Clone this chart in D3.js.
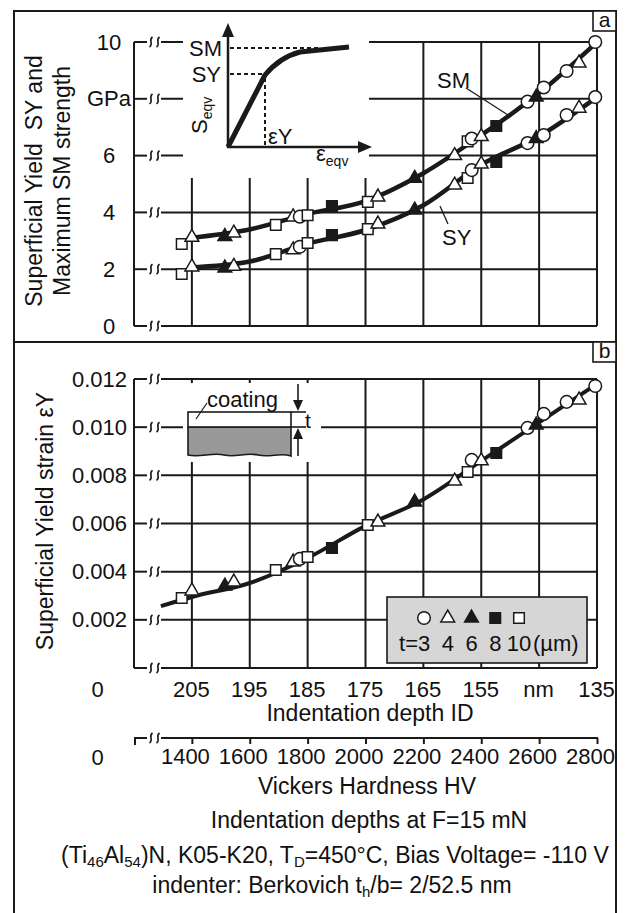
<!DOCTYPE html>
<html>
<head>
<meta charset="utf-8">
<script src="https://cdnjs.cloudflare.com/ajax/libs/d3/7.8.5/d3.min.js"></script>
<style>
  body { margin: 0; background: #fff; }
  text { font-family: "Liberation Sans", Arial, sans-serif; fill: #111; }
</style>
</head>
<body>
<script>
// every specimen: Vickers hardness position and coating thickness t (µm)
const pointHV = [1365, 1400, 1514, 1545, 1690, 1750, 1773, 1800, 1884, 2008, 2043, 2170,
                 2308, 2353, 2367, 2400, 2452, 2560, 2590, 2616, 2695, 2738, 2794]
const pointT  = [10, 4, 6, 4, 10, 4, 3, 10, 8, 10, 4, 6,
                 4, 10, 3, 4, 8, 3, 6, 3, 3, 4, 3]
// SM, SY in GPa, eY strain
const smValues = [2.89, 3.12, 3.15, 3.27, 3.56, 3.84, 3.85, 3.9, 4.22, 4.37, 4.54, 5.2,
                  6.0, 6.5, 6.6, 6.67, 7.04, 7.9, 8.06, 8.4, 8.98, 9.26, 10.0]
const syValues = [1.83, 2.08, 2.04, 2.1, 2.53, 2.68, 2.79, 2.92, 3.2, 3.41, 3.59, 4.08,
                  4.96, 5.21, 5.49, 5.7, 5.78, 6.44, 6.6, 6.72, 7.43, 7.67, 8.06]
const eyValues = [0.00291, 0.0032, 0.0034, 0.00357, 0.00407, 0.0044, 0.00453, 0.00461, 0.00498, 0.00594, 0.00606, 0.00689,
                  0.00776, 0.00814, 0.00864, 0.0086, 0.00893, 0.00997, 0.01009, 0.01055, 0.01105, 0.01113, 0.01171]

// fitted curves
const trendHV   = [1390, 1600, 1800, 2000, 2200, 2400, 2600, 2800]
const smTrend   = [3.1, 3.4, 3.95, 4.4, 5.38, 6.72, 8.2, 10.0]
const syTrend   = [2.06, 2.27, 2.9, 3.38, 4.25, 5.68, 6.68, 8.06]
const eyTrendHV = [1293, 1400, 1600, 1800, 2000, 2200, 2400, 2600, 2800]
const eyTrend   = [0.00257, 0.00295, 0.00353, 0.00457, 0.0059, 0.007, 0.0086, 0.0102, 0.0118]

// axes
const hvTicks      = [1400, 1600, 1800, 2000, 2200, 2400, 2600, 2800]
const depthLabels  = ['205', '195', '185', '175', '165', '155', 'nm', '135']
const stressTicks  = [0, 2, 4, 6, 8, 10]
const stressLabels = ['0', '2', '4', '6', 'GPa', '10']
const strainTicks  = [0, 0.002, 0.004, 0.006, 0.008, 0.010, 0.012]
const legendT      = [3, 4, 6, 8, 10]

const ink = '#1a1a1a'

const svg = d3.select('body').append('svg')
  .attr('width', 625)
  .attr('height', 913)

const x  = d3.scaleLinear().domain([1200, 2800]).range([134, 597])
const yA = d3.scaleLinear().domain([0, 10]).range([326, 42])
const yB = d3.scaleLinear().domain([0, 0.012]).range([668, 379])

// marker look per thickness
const symbolOf = {3: d3.symbolCircle, 4: d3.symbolTriangle, 6: d3.symbolTriangle, 8: d3.symbolSquare, 10: d3.symbolSquare}
const sizeOf = {3: 125, 4: 82, 6: 82, 8: 112, 10: 112}
const filled = (t) => t === 6 || t === 8
const marker = (t) => d3.symbol().type(symbolOf[t]).size(sizeOf[t])()

// outer frame and panel divider
svg.append('path')
  .attr('d', 'M14,913 V11 H616 V913')
  .attr('fill', 'none').attr('stroke', ink).attr('stroke-width', 2)
svg.append('line').attr('x1', 14).attr('x2', 616).attr('y1', 342).attr('y2', 342)
  .attr('stroke', ink).attr('stroke-width', 2)

function squiggle(g, cx, cy) {
  g.append('path')
    .attr('d', `M${cx + 1.5},${cy - 5} C${cx - 3},${cy - 2} ${cx + 3},${cy + 2} ${cx - 1.5},${cy + 5}`)
    .attr('fill', 'none').attr('stroke', ink).attr('stroke-width', 1.6)
}

// grid with broken axis near the origin
function drawGrid(g, y, ticks) {
  const top = y(ticks[ticks.length - 1]), bottom = y(ticks[0])
  ticks.forEach((v) => {
    g.append('line').attr('x1', x(1200)).attr('x2', 147).attr('y1', y(v)).attr('y2', y(v))
    squiggle(g, 151, y(v))
    squiggle(g, 158, y(v))
    g.append('line').attr('x1', 161).attr('x2', x(2800)).attr('y1', y(v)).attr('y2', y(v))
  })
  ;[1200].concat(hvTicks).forEach((h) => {
    g.append('line').attr('x1', x(h)).attr('x2', x(h)).attr('y1', top).attr('y2', bottom)
  })
  g.selectAll('line').attr('stroke', ink).attr('stroke-width', 2)
}

function panelTag(label, y0) {
  svg.append('rect').attr('x', 593).attr('y', y0).attr('width', 23).attr('height', 20)
    .attr('fill', '#fff').attr('stroke', ink).attr('stroke-width', 1.6)
  svg.append('text').attr('x', 604.5).attr('y', y0 + 16).attr('text-anchor', 'middle')
    .attr('font-size', 21).text(label)
}

function drawSeries(g, y, lineHV, lineVals, vals, width) {
  const line = d3.line().x((d) => x(d[0])).y((d) => y(d[1])).curve(d3.curveMonotoneX)
  g.append('path')
    .attr('d', line(d3.zip(lineHV, lineVals)))
    .attr('fill', 'none').attr('stroke', ink).attr('stroke-width', width)
  g.selectAll('path.pt')
    .data(d3.range(vals.length))
    .join('path')
    .attr('class', 'pt')
    .attr('d', (i) => marker(pointT[i]))
    .attr('transform', (i) => `translate(${x(pointHV[i])},${y(vals[i])})`)
    .attr('fill', (i) => filled(pointT[i]) ? ink : '#fff')
    .attr('stroke', ink).attr('stroke-width', 1.5)
}

// ---------- panel a ----------
const ga = svg.append('g')
drawGrid(ga.append('g'), yA, stressTicks)
ga.append('rect').attr('x', 183).attr('y', 18).attr('width', 186).attr('height', 160).attr('fill', '#fff')

const axA = ga.append('g').attr('transform', 'translate(134,0)')
  .call(d3.axisLeft(yA).tickValues(stressTicks).tickFormat((d, i) => stressLabels[i]).tickSize(0))
axA.select('.domain').remove()
axA.selectAll('text').attr('x', -25).attr('text-anchor', 'middle')
  .attr('font-size', 22).attr('font-family', null).attr('fill', null)

// stress-strain sketch
const sk = ga.append('g').attr('stroke', ink).attr('fill', 'none')
sk.append('line').attr('x1', 228).attr('y1', 148).attr('x2', 228).attr('y2', 34).attr('stroke-width', 2.5)
sk.append('path').attr('d', 'M228,23 L222,37 L234,37 Z').attr('fill', ink).attr('stroke', 'none')
sk.append('line').attr('x1', 227).attr('y1', 147).attr('x2', 360).attr('y2', 147).attr('stroke-width', 2.5)
sk.append('path').attr('d', 'M372,147 L358,141 L358,153 Z').attr('fill', ink).attr('stroke', 'none')
sk.selectAll('line.dash')
  .data([[230, 48, 318, 48], [230, 74, 263, 74], [265, 78, 265, 146]])
  .join('line').attr('class', 'dash')
  .attr('x1', (d) => d[0]).attr('y1', (d) => d[1]).attr('x2', (d) => d[2]).attr('y2', (d) => d[3])
  .attr('stroke-width', 2).attr('stroke-dasharray', '4,3')
sk.append('path').attr('d', 'M228,147 L265,75 Q280,57 300,52 L349,47')
  .attr('stroke-width', 5).attr('stroke-linejoin', 'round')
ga.append('text').attr('x', 222).attr('y', 56).attr('text-anchor', 'end').attr('font-size', 22).text('SM')
ga.append('text').attr('x', 221).attr('y', 82).attr('text-anchor', 'end').attr('font-size', 22).text('SY')
const seqv = ga.append('text').attr('transform', 'translate(207,134) rotate(-90)').attr('font-size', 22)
seqv.append('tspan').text('S')
seqv.append('tspan').attr('font-size', 14).attr('dy', 5).text('eqv')
ga.append('text').attr('x', 268).attr('y', 144).attr('font-size', 22).text('εY')
const eeqv = ga.append('text').attr('x', 316).attr('y', 161).attr('font-size', 22)
eeqv.append('tspan').text('ε')
eeqv.append('tspan').attr('font-size', 14).attr('dy', 5).text('eqv')

drawSeries(ga.append('g'), yA, trendHV, smTrend, smValues, 4.5)
drawSeries(ga.append('g'), yA, trendHV, syTrend, syValues, 4.5)

// curve labels
ga.append('text').attr('x', 437).attr('y', 88).attr('font-size', 22).text('SM')
ga.append('line').attr('x1', 466).attr('y1', 88).attr('x2', 508).attr('y2', 115).attr('stroke', ink).attr('stroke-width', 1.3)
ga.append('text').attr('x', 442).attr('y', 245).attr('font-size', 22).text('SY')
ga.append('line').attr('x1', 440).attr('y1', 206).attr('x2', 448).attr('y2', 224).attr('stroke', ink).attr('stroke-width', 1.3)

const labA = ga.append('text').attr('transform', 'translate(0,181) rotate(-90)')
  .attr('text-anchor', 'middle').attr('font-size', 23)
labA.append('tspan').attr('x', 0).attr('y', 42).text('Superficial Yield\u00a0\u00a0SY and')
labA.append('tspan').attr('x', 0).attr('y', 70).text('Maximum SM strength')

panelTag('a', 11)

// ---------- panel b ----------
const gb = svg.append('g')
drawGrid(gb.append('g'), yB, strainTicks)
gb.append('rect').attr('x', 183).attr('y', 383).attr('width', 138).attr('height', 79).attr('fill', '#fff')

const axB = gb.append('g').attr('transform', 'translate(134,0)')
  .call(d3.axisLeft(yB).tickValues(strainTicks.slice(1)).tickFormat(d3.format('.3f')).tickSize(0).tickPadding(7))
axB.select('.domain').remove()
axB.selectAll('text').attr('font-size', 22).attr('font-family', null).attr('fill', null)

// coating sketch
const cs = gb.append('g').attr('stroke', ink).attr('stroke-width', 1.6)
cs.append('path')
  .attr('d', 'M188,427 H291 V456 C280,452 270,458 258,455 C246,452 236,458 224,455 C212,452 200,458 188,455 Z')
  .attr('fill', '#999')
cs.append('rect').attr('x', 188).attr('y', 412).attr('width', 103).attr('height', 15).attr('fill', '#fff')
cs.append('line').attr('x1', 291).attr('x2', 306).attr('y1', 412).attr('y2', 412)
cs.append('line').attr('x1', 291).attr('x2', 306).attr('y1', 427).attr('y2', 427)
cs.append('line').attr('x1', 298).attr('x2', 298).attr('y1', 384).attr('y2', 402)
cs.append('path').attr('d', 'M298,411 L293,400 L303,400 Z').attr('fill', ink).attr('stroke', 'none')
cs.append('line').attr('x1', 298).attr('x2', 298).attr('y1', 456).attr('y2', 437)
cs.append('path').attr('d', 'M298,428 L293,439 L303,439 Z').attr('fill', ink).attr('stroke', 'none')
cs.append('line').attr('x1', 196).attr('y1', 419).attr('x2', 207).attr('y2', 403).attr('stroke-width', 1.2)
gb.append('text').attr('x', 207).attr('y', 407).attr('font-size', 22).text('coating')
gb.append('text').attr('x', 305).attr('y', 428).attr('font-size', 21).text('t')

drawSeries(gb.append('g'), yB, eyTrendHV, eyTrend, eyValues, 4)

gb.append('text').attr('transform', 'translate(53,521) rotate(-90)')
  .attr('text-anchor', 'middle').attr('font-size', 23).text('Superficial Yield strain εY')

// legend
const lg = gb.append('g')
const lx = d3.scalePoint().domain(legendT).range([424, 519])
lg.append('rect').attr('x', 387).attr('y', 597).attr('width', 200).attr('height', 66)
  .attr('fill', '#d6d6d6').attr('stroke', ink).attr('stroke-width', 1.6)
lg.selectAll('path')
  .data(legendT)
  .join('path')
  .attr('d', (t) => marker(t))
  .attr('transform', (t) => `translate(${lx(t)},618)`)
  .attr('fill', (t) => filled(t) ? ink : '#fff')
  .attr('stroke', ink).attr('stroke-width', 1.5)
lg.selectAll('text.num')
  .data(legendT)
  .join('text').attr('class', 'num')
  .attr('x', (t) => lx(t)).attr('y', 651).attr('text-anchor', 'middle').attr('font-size', 22)
  .text((t) => t)
lg.append('text').attr('x', lx(3) - 6).attr('y', 651).attr('text-anchor', 'end').attr('font-size', 22).text('t=')
lg.append('text').attr('x', lx(10) + 14).attr('y', 651).attr('font-size', 22).text('(µm)')

panelTag('b', 342)

// ---------- lower axes ----------
const depthAxis = svg.append('g').attr('transform', 'translate(0,668)')
  .call(d3.axisBottom(x).tickValues(hvTicks).tickFormat((d, i) => depthLabels[i]).tickSize(0).tickPadding(13))
depthAxis.select('.domain').remove()
depthAxis.selectAll('text').attr('font-size', 22).attr('font-family', null).attr('fill', null).attr('dx', -1)

const hvAxis = svg.append('g').attr('transform', 'translate(0,738)')
  .call(d3.axisBottom(x).tickValues(hvTicks).tickFormat(d3.format('d')).tickSize(6).tickPadding(4))
hvAxis.select('.domain').remove()
hvAxis.selectAll('line').attr('stroke', ink).attr('stroke-width', 2)
hvAxis.selectAll('text').attr('font-size', 22).attr('font-family', null).attr('fill', null).attr('dx', -7)
hvAxis.append('path').attr('d', `M${x(1200) + 1},7 V0 H147`).attr('fill', 'none').attr('stroke', ink).attr('stroke-width', 2)
squiggle(hvAxis, 151, 0)
squiggle(hvAxis, 158, 0)
hvAxis.append('line').attr('x1', 161).attr('x2', x(2800) + 1).attr('y1', 0).attr('y2', 0).attr('stroke', ink).attr('stroke-width', 2)

svg.append('text').attr('x', 97.5).attr('y', 697).attr('text-anchor', 'middle').attr('font-size', 22).text('0')
svg.append('text').attr('x', 97.5).attr('y', 765).attr('text-anchor', 'middle').attr('font-size', 22).text('0')

const notes = svg.append('g').attr('text-anchor', 'middle').attr('font-size', 23)
notes.append('text').attr('x', 370).attr('y', 721).text('Indentation depth ID')
notes.append('text').attr('x', 367).attr('y', 794).text('Vickers Hardness HV')
notes.append('text').attr('x', 369).attr('y', 828).text('Indentation depths at F=15 mN')
const comp = notes.append('text').attr('x', 335).attr('y', 863)
comp.append('tspan').text('(Ti')
comp.append('tspan').attr('font-size', 15).attr('dy', 4).text('46')
comp.append('tspan').attr('dy', -4).text('Al')
comp.append('tspan').attr('font-size', 15).attr('dy', 4).text('54')
comp.append('tspan').attr('dy', -4).text(')N, K05-K20, T')
comp.append('tspan').attr('font-size', 15).attr('dy', 4).text('D')
comp.append('tspan').attr('dy', -4).text('=450°C, Bias Voltage= -110 V')
const ind = notes.append('text').attr('x', 332).attr('y', 893)
ind.append('tspan').text('indenter: Berkovich t')
ind.append('tspan').attr('font-size', 15).attr('dy', 4).text('h')
ind.append('tspan').attr('dy', -4).text('/b= 2/52.5 nm')
</script>
</body>
</html>
